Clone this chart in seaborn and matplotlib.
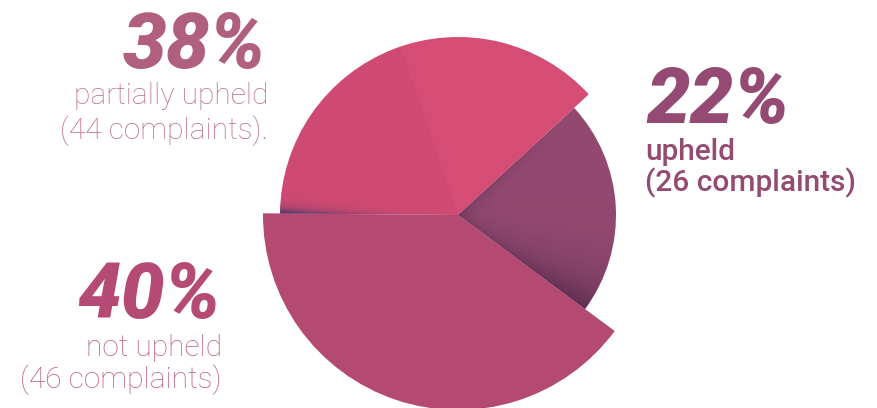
import numpy as np
import matplotlib
matplotlib.use("Agg")
import matplotlib.pyplot as plt
import matplotlib.colors as mcolors
import seaborn as sns
from matplotlib.patches import Wedge

# Complaint outcomes
outcomes = ["upheld", "partially upheld", "not upheld"]
shares = [22, 38, 40]
complaints = [26, 44, 46]

slice_colors = ["#944a70", "#d54c75", "#b44a72"]
slice_radii = [158, 178, 195]

sns.set_theme(style="white")
plt.rcParams["font.family"] = ["Roboto", "DejaVu Sans"]

W, H = 878, 408
CX, CY = 458, 215  # pie centre, measured from the top-left corner
EXTENT = (-CX, W - CX, -(H - CY), CY)

fig = plt.figure(figsize=(W / 100, H / 100), dpi=100)
ax = fig.add_axes([0, 0, 1, 1])

wedges, _ = ax.pie(
    shares,
    colors=slice_colors,
    startangle=-36.5,
    counterclock=True,
    radius=1,
    wedgeprops=dict(linewidth=0),
)
for w, r in zip(wedges, slice_radii):
    w.set_radius(r)

# Soft shadows along the slice edges
xs = np.arange(EXTENT[0], EXTENT[1]) + 0.5
ys = np.arange(EXTENT[2], EXTENT[3]) + 0.5
X, Y = np.meshgrid(xs, ys)
R = np.hypot(X, Y)
PHI = np.degrees(np.arctan2(Y, X))


def shade(wedge, color, alpha):
    rgba = np.zeros(X.shape + (4,))
    rgba[..., :3] = mcolors.to_rgb(color)
    rgba[..., 3] = np.clip(alpha, 0, 1)
    im = ax.imshow(rgba, extent=EXTENT, origin="lower",
                   interpolation="bilinear", zorder=3)
    im.set_clip_path(wedge)


w_up, w_part, w_not = wedges

# upheld: deep shadow cast by the larger slice below, lighter one above
r0 = slice_radii[0]
a_low = np.radians((PHI - w_up.theta1) % 360)
d_low = np.abs(R * np.sin(a_low))
a_up = np.radians((w_up.theta2 - PHI) % 360)
d_up = np.abs(R * np.sin(a_up))
alpha_up = (0.75 * np.exp(-d_low / (5 + 26 * R / r0)) * (0.35 + 0.65 * R / r0)
            + 0.35 * np.exp(-d_up / 7) * np.clip(1 - R / r0, 0, 1))
shade(w_up, "#4a2545", alpha_up)

# partially upheld: thin dark band where it meets the not-upheld slice
r1 = slice_radii[1]
a_b = np.radians((w_part.theta2 - PHI) % 360)
d_b = np.abs(R * np.sin(a_b))
alpha_b = 0.95 * (R / r1) ** 2 * np.exp(-d_b / (1.0 + 4.0 * R / r1))
shade(w_part, "#2e3566", alpha_b)

# slight tonal split inside the partially upheld slice
ax.add_patch(Wedge((0, 0), r1, 108.8, w_part.theta2, facecolor="#000000",
                   alpha=0.025, linewidth=0, zorder=2))

ax.set_xlim(EXTENT[0], EXTENT[1])
ax.set_ylim(EXTENT[2], EXTENT[3])
ax.set_aspect("auto")
ax.axis("off")


def px(x, y):
    return x - CX, CY - y


big = dict(fontsize=56, fontweight="black", fontstyle="italic", va="baseline")
light = dict(fontsize=21.5, fontweight="light", va="baseline")
medium = dict(fontsize=21.5, fontweight="medium", va="baseline")

# partially upheld
ax.text(*px(266, 68), f"{shares[1]}%", color="#b0607e", ha="right", **big)
ax.text(*px(268, 104), outcomes[1], color="#bd6f8c", ha="right", **light)
ax.text(*px(268, 139), f"({complaints[1]} complaints).", color="#bd6f8c",
        ha="right", **light)

# upheld
ax.text(*px(646, 123), f"{shares[0]}%", color="#944a72", ha="left", **big)
ax.text(*px(645, 160), outcomes[0], color="#944a72", ha="left", **medium)
ax.text(*px(645, 191), f"({complaints[0]} complaints)", color="#944a72",
        ha="left", **medium)

# not upheld
ax.text(*px(221, 318), f"{shares[2]}%", color="#b54a74", ha="right", **big)
ax.text(*px(222, 356), outcomes[2], color="#bf5f84", ha="right", **light)
ax.text(*px(222, 388), f"({complaints[2]} complaints)", color="#bf5f84",
        ha="right", **light)

fig.savefig("out.png", dpi=100, facecolor="white")
